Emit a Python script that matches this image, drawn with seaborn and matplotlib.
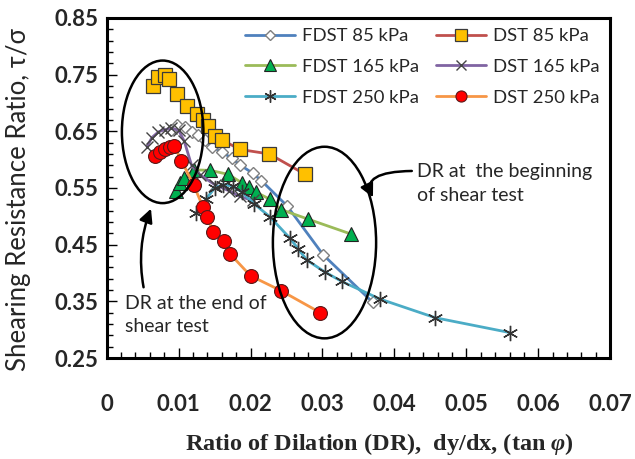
import numpy as np
import pandas as pd
import matplotlib
matplotlib.use('Agg')
import matplotlib.pyplot as plt
from matplotlib.patches import Ellipse
from matplotlib.ticker import MultipleLocator, FixedLocator
import seaborn as sns

# ---------------------------------------------------------------
# data (DR = dy/dx, ratio = tau/sigma)
# ---------------------------------------------------------------
fdst85_x = [0.0090, 0.0098, 0.0109, 0.0118, 0.0127, 0.0137, 0.0147, 0.0160, 0.0174, 0.0185,
            0.0203, 0.0215, 0.0251, 0.0301, 0.0370]
fdst85_y = [0.652, 0.661, 0.657, 0.649, 0.643, 0.634, 0.622, 0.614, 0.602, 0.591,
            0.576, 0.563, 0.518, 0.432, 0.348]

dst85_x = [0.0064, 0.0072, 0.0081, 0.0086, 0.0098, 0.0111, 0.0125, 0.0134, 0.0141, 0.0151,
           0.0160, 0.0185, 0.0226, 0.0276]
dst85_y = [0.730, 0.746, 0.749, 0.742, 0.716, 0.694, 0.680, 0.670, 0.659, 0.641,
           0.635, 0.618, 0.610, 0.574]

fdst165_x = [0.0097, 0.0102, 0.0108, 0.0121, 0.0144, 0.0169, 0.0188, 0.0198, 0.0207, 0.0227,
             0.0242, 0.0280, 0.0339]
fdst165_y = [0.545, 0.558, 0.567, 0.582, 0.581, 0.574, 0.559, 0.552, 0.543, 0.530,
             0.512, 0.495, 0.469]

dst165_x = [0.0056, 0.0063, 0.0072, 0.0081, 0.0090, 0.0100, 0.0108, 0.0118, 0.0130, 0.0150,
            0.0170, 0.0185, 0.0203]
dst165_y = [0.623, 0.639, 0.649, 0.653, 0.655, 0.652, 0.632, 0.590, 0.573, 0.556,
            0.545, 0.535, 0.528]

fdst250_x = [0.0124, 0.0138, 0.0150, 0.0162, 0.0175, 0.0188, 0.0205, 0.0227, 0.0255, 0.0266,
             0.0278, 0.0303, 0.0327, 0.0380, 0.0457, 0.0560]
fdst250_y = [0.505, 0.530, 0.550, 0.556, 0.553, 0.543, 0.522, 0.499, 0.461, 0.443,
             0.423, 0.402, 0.385, 0.354, 0.321, 0.295]

dst250_x = [0.0067, 0.0074, 0.0081, 0.0088, 0.0094, 0.0104, 0.0121, 0.0134, 0.0140, 0.0148,
            0.0163, 0.0172, 0.0200, 0.0242, 0.0297]
dst250_y = [0.606, 0.614, 0.618, 0.623, 0.624, 0.598, 0.555, 0.516, 0.498, 0.473,
            0.457, 0.433, 0.395, 0.369, 0.330]

x_ticks = [0, 0.01, 0.02, 0.03, 0.04, 0.05, 0.06, 0.07]
x_ticklabels = ['0', '0.01', '0.02', '0.03', '0.04', '0.05', '0.06', '0.07']
y_ticks = [0.25, 0.35, 0.45, 0.55, 0.65, 0.75, 0.85]

# ---------------------------------------------------------------
# styling
# ---------------------------------------------------------------
sns.set_style('white')
plt.rcParams['font.family'] = ['Lato', 'DejaVu Sans']
plt.rcParams['mathtext.fontset'] = 'custom'
plt.rcParams['mathtext.it'] = 'Liberation Serif:italic:bold'
plt.rcParams['mathtext.rm'] = 'Liberation Serif:bold'

fig = plt.figure(figsize=(6.35, 4.59), dpi=100)
ax = fig.add_axes([0.168, 0.220, 0.793, 0.741])

series = [
    ('FDST 85 kPa', fdst85_x, fdst85_y, '#4F81BD',
     dict(marker='D', markersize=6.5, markerfacecolor='white', markeredgecolor='#7F7F7F', markeredgewidth=1.0)),
    ('FDST 165 kPa', fdst165_x, fdst165_y, '#9BBB59',
     dict(marker='^', markersize=10, markerfacecolor='#00B050', markeredgecolor='#222222', markeredgewidth=0.8)),
    ('FDST 250 kPa', fdst250_x, fdst250_y, '#4BACC6',
     dict(marker=(6, 2, 0), markersize=11, markerfacecolor='none', markeredgecolor='#333333', markeredgewidth=1.0)),
    ('DST 85 kPa', dst85_x, dst85_y, '#C0504D',
     dict(marker='s', markersize=10, markerfacecolor='#FFC000', markeredgecolor='#3A3A3A', markeredgewidth=0.9)),
    ('DST 165 kPa', dst165_x, dst165_y, '#8064A2',
     dict(marker='x', markersize=8.5, markeredgecolor='#444444', markeredgewidth=1.0)),
    ('DST 250 kPa', dst250_x, dst250_y, '#F79646',
     dict(marker='o', markersize=10, markerfacecolor='#FF0000', markeredgecolor='#5A1A1A', markeredgewidth=0.8)),
]
zorders = {'FDST 85 kPa': 3, 'DST 85 kPa': 4, 'FDST 165 kPa': 5,
           'DST 165 kPa': 6, 'FDST 250 kPa': 7, 'DST 250 kPa': 8}

for name, xs, ys, col, mk in series:
    df = pd.DataFrame({'x': xs, 'y': ys})
    sns.lineplot(data=df, x='x', y='y', ax=ax, sort=False, estimator=None,
                 color=col, linewidth=2.0, label=name, zorder=zorders[name], **mk)

ax.set_xlim(0, 0.07)
ax.set_ylim(0.25, 0.85)
ax.xaxis.set_major_locator(FixedLocator(x_ticks))
ax.set_xticklabels(x_ticklabels)
ax.xaxis.set_minor_locator(MultipleLocator(0.002))
ax.yaxis.set_major_locator(FixedLocator(y_ticks))
ax.yaxis.set_minor_locator(MultipleLocator(0.02, offset=0.01))
ax.tick_params(which='both', direction='in', left=True, bottom=True, top=False, right=False,
               width=1.0, color='black')
ax.tick_params(which='major', length=7, labelsize=16, pad=26)
ax.tick_params(which='minor', length=4)
ax.tick_params(axis='y', which='major', pad=6)
for lab in ax.get_xticklabels() + ax.get_yticklabels():
    lab.set_fontweight('bold')

for sp in ax.spines.values():
    sp.set_visible(True)
    sp.set_color('black')
    sp.set_linewidth(2.2)

ax.set_xlabel('Ratio of Dilation (DR),  dy/dx, (tan $\\varphi$)', family='Liberation Serif',
              fontweight='bold', fontsize=17.5)
ax.xaxis.set_label_coords(0.541, -0.252)
ax.xaxis.label.set_va('center')
ax.set_ylabel('Shearing Resistance Ratio, τ/σ', fontsize=18.5)
ax.yaxis.set_label_coords(-0.176, 0.465)
ax.yaxis.label.set_va('center')

# legend in two columns at the top right
handles, labels = ax.get_legend_handles_labels()
leg = ax.legend(handles, labels, ncol=2, loc='upper left', bbox_to_anchor=(0.275, 0.97),
                frameon=False, fontsize=13.3, handlelength=2.7, columnspacing=0.9,
                labelspacing=0.8, handletextpad=0.4, borderpad=0, borderaxespad=0,
                markerscale=0.8)

# ellipses and notes
ax.add_patch(Ellipse((0.00778, 0.649), 0.01133, 0.2515, fill=False, edgecolor='black',
                     linewidth=1.8, zorder=9))
ax.add_patch(Ellipse((0.03028, 0.4537), 0.01435, 0.338, fill=False, edgecolor='black',
                     linewidth=1.8, zorder=9))

ax.text(0.0431, 0.579, 'DR at  the beginning', fontsize=14, va='center', ha='left')
ax.text(0.0431, 0.537, 'of shear test', fontsize=14, va='center', ha='left')
ax.text(0.0026, 0.347, 'DR at the end of', fontsize=14, va='center', ha='left')
ax.text(0.0026, 0.305, 'shear test', fontsize=14, va='center', ha='left')

ax.annotate('', xy=(0.0063, 0.518), xytext=(0.0052, 0.370),
            arrowprops=dict(arrowstyle='-|>', color='black', lw=1.8, mutation_scale=20,
                            connectionstyle='arc3,rad=-0.15'), zorder=9)
ax.annotate('', xy=(0.0372, 0.529), xytext=(0.0428, 0.580),
            arrowprops=dict(arrowstyle='-|>', color='black', lw=1.8, mutation_scale=20,
                            connectionstyle='angle3,angleA=180,angleB=120'), zorder=9)

fig.savefig('out.png', dpi=100)
